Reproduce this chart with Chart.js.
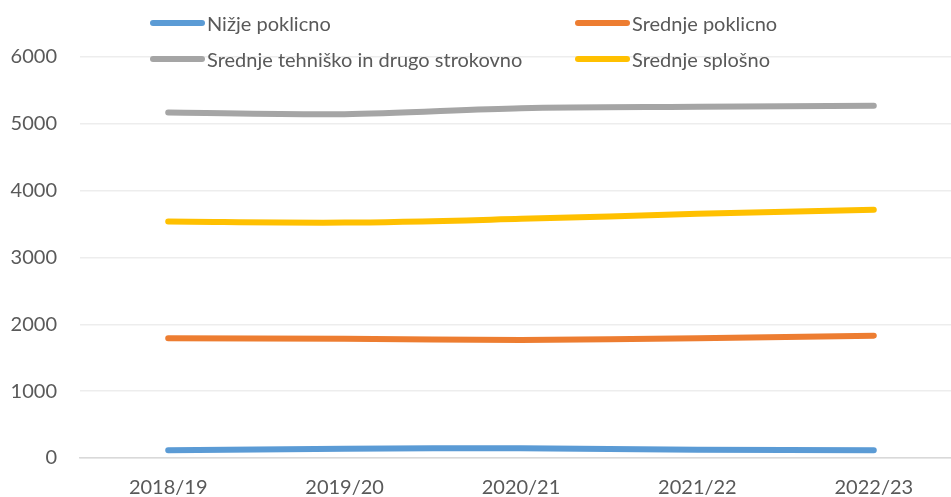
<!DOCTYPE html>
<html>
<head>
<meta charset="utf-8">
<script src="https://cdn.jsdelivr.net/npm/chart.js@4/dist/chart.umd.min.js"></script>
<style>
  html, body { margin: 0; padding: 0; background: #fff; overflow: hidden; width: 951px; height: 497px; }
  #wrap { position: relative; width: 962px; height: 497px; }
  #legend { position: absolute; left: 0; top: 0; width: 951px; height: 80px; pointer-events: none; font-family: Lato, "Liberation Sans", sans-serif; font-size: 20px; color: #595959; }
  .item { position: absolute; display: flex; align-items: center; white-space: nowrap; }
  .swatch { width: 55px; height: 6px; border-radius: 3px; margin-right: 2px; }
</style>
</head>
<body>
<div id="wrap">
  <canvas id="c"></canvas>
  <div id="legend"></div>
</div>
<script>
const categories = ["2018/19", "2019/20", "2020/21", "2021/22", "2022/23"];
const seriesNames = ["Nižje poklicno", "Srednje poklicno", "Srednje tehniško in drugo strokovno", "Srednje splošno"];
const nizjePoklicno = [115, 140, 145, 124, 115];
const srednjePoklicno = [1792, 1786, 1766, 1792, 1831];
const srednjeTehnisko = [5169, 5145, 5235, 5254, 5269];
const srednjeSplosno = [3537, 3522, 3578, 3653, 3713];
const yTicks = [0, 1000, 2000, 3000, 4000, 5000, 6000];

const colors = ["#5B9BD5", "#ED7D31", "#A5A5A5", "#FFC000"];
const values = [nizjePoklicno, srednjePoklicno, srednjeTehnisko, srednjeSplosno];
const FONT = "Lato, 'Liberation Sans', sans-serif";

const datasets = values.map((v, i) => ({
  label: seriesNames[i],
  data: v,
  borderColor: colors[i],
  backgroundColor: colors[i],
  borderWidth: 6,
  borderCapStyle: 'round',
  borderJoinStyle: 'round',
  pointRadius: 0,
  pointHoverRadius: 0,
  tension: 0.3,
  fill: false
}));

new Chart(document.getElementById('c'), {
  type: 'line',
  data: { labels: categories, datasets: datasets },
  options: {
    responsive: true,
    maintainAspectRatio: false,
    animation: false,
    layout: { padding: { top: 57, left: 0, right: 0, bottom: 0 } },
    plugins: { legend: { display: false }, tooltip: { enabled: false } },
    scales: {
      x: {
        offset: true,
        grid: { display: false, drawTicks: false },
        border: { display: true, color: '#D9D9D9', width: 1.5 },
        ticks: { color: '#595959', font: { family: FONT, size: 20 }, padding: 18, maxRotation: 0, autoSkip: false },
        afterFit: (s) => { s.height = 39; }
      },
      y: {
        min: 0, max: 6000,
        afterBuildTicks: (s) => { s.ticks = yTicks.map(v => ({ value: v })); },
        grid: { color: '#EDEDED', lineWidth: 1.5, drawTicks: false },
        border: { display: false },
        ticks: { color: '#595959', font: { family: FONT, size: 20 }, padding: 23, callback: (v) => String(v) },
        afterFit: (s) => { s.width = 80; }
      }
    }
  }
});

const legend = document.getElementById('legend');
const pos = [[150, 22.7], [575, 22.7], [150, 59.3], [575, 59.3]];
seriesNames.forEach((name, i) => {
  const it = document.createElement('div');
  it.className = 'item';
  it.style.left = pos[i][0] + 'px';
  it.style.top = (pos[i][1] - 13) + 'px';
  it.style.height = '26px';
  const sw = document.createElement('span');
  sw.className = 'swatch';
  sw.style.background = colors[i];
  const tx = document.createElement('span');
  tx.textContent = name;
  it.appendChild(sw); it.appendChild(tx);
  legend.appendChild(it);
});
</script>
</body>
</html>
